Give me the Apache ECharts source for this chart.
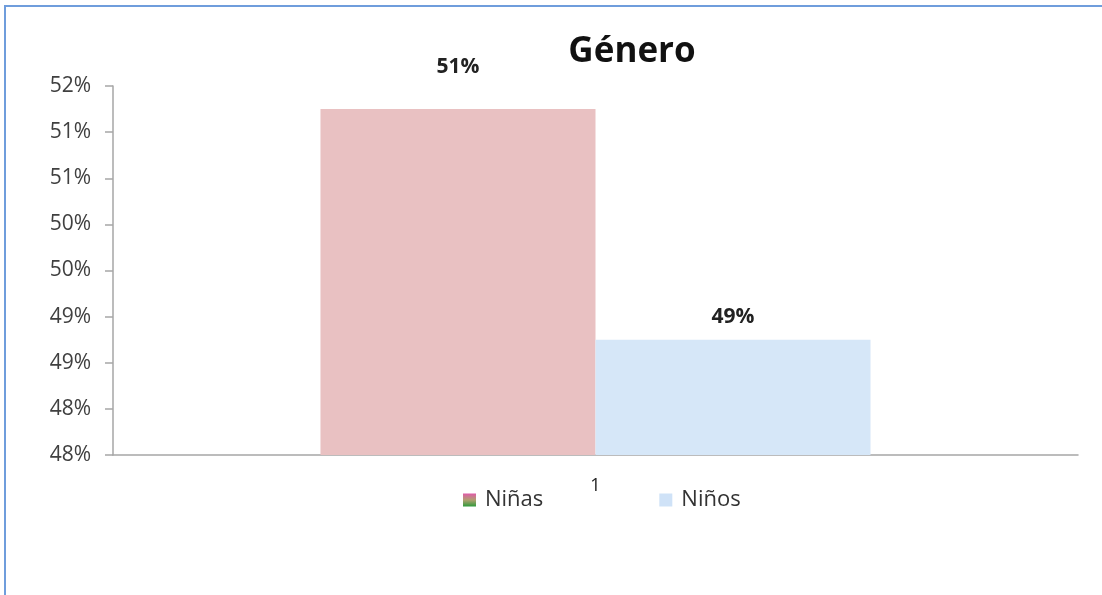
<!DOCTYPE html>
<html>
<head>
<meta charset="utf-8">
<script src="https://cdn.jsdelivr.net/npm/echarts@6/dist/echarts.min.js"></script>
<style>
  html, body { margin: 0; padding: 0; background: #fff; }
  #main { width: 1102px; height: 595px; }
</style>
</head>
<body>
<div id="main"></div>
<script>
var categories = ['1'];
var seriesNames = ['Niñas', 'Niños'];
var ninas = [0.5175];
var ninos = [0.4925];
var barLabels = ['51%', '49%'];
// labels as they appear on the axis, bottom to top
var tickLabels = ['48%', '48%', '49%', '49%', '50%', '50%', '51%', '51%', '52%'];
var yMin = 0.48, yMax = 0.52, yStep = 0.005;

var myChart = echarts.init(document.getElementById('main'));

var option = {
    backgroundColor: '#ffffff',
    textStyle: { fontFamily: 'Open Sans' },
    title: {
        text: 'Género',
        left: 627,
        top: 30,
        textAlign: 'center',
        textStyle: { fontSize: 35, fontWeight: 'bold', color: '#111', fontFamily: 'Open Sans' }
    },
    graphic: [{
        type: 'polyline',
        shape: { points: [[5, 600], [5, 6], [1102, 6]] },
        style: { stroke: '#6f9ddc', lineWidth: 2, fill: null }
    }],
    legend: {
        data: [
            { name: seriesNames[0], itemStyle: { color: new echarts.graphic.LinearGradient(0, 0, 0, 1, [
                { offset: 0, color: '#e05aa8' }, { offset: 0.5, color: '#b0a070' }, { offset: 1, color: '#2e9a3a' }
            ]) } },
            { name: seriesNames[1], itemStyle: { color: '#cfe2f7' } }
        ],
        icon: 'rect',
        left: 458,
        top: 484,
        itemWidth: 13,
        itemHeight: 13,
        itemGap: 116,
        textStyle: { fontSize: 22, color: '#333', fontFamily: 'Open Sans', padding: [0, 0, 0, 4] }
    },
    grid: { left: 113, right: 24, top: 86, bottom: 140 },
    xAxis: {
        type: 'category',
        data: categories,
        axisLine: { lineStyle: { color: '#a6a6a6', width: 1.5 } },
        axisTick: { length: 6, lineStyle: { color: '#a6a6a6', width: 1.5 } },
        axisLabel: { fontSize: 18, color: '#222', margin: 22 }
    },
    yAxis: {
        type: 'value',
        min: yMin,
        max: yMax,
        interval: yStep,
        splitLine: { show: false },
        axisLine: { show: true, lineStyle: { color: '#a6a6a6', width: 1.5 } },
        axisTick: { show: true, length: 8, inside: false, lineStyle: { color: '#a6a6a6', width: 1.5 } },
        axisLabel: {
            fontSize: 21,
            color: '#404040',
            margin: 22,
            formatter: function (v) {
                return tickLabels[Math.round((v - yMin) / yStep)];
            }
        }
    },
    series: [
        {
            name: seriesNames[0],
            type: 'bar',
            data: ninas,
            barGap: '0%',
            barCategoryGap: '43%',
            itemStyle: { color: '#e9c1c2' },
            label: {
                show: true, position: 'top', distance: 32,
                formatter: function () { return barLabels[0]; },
                fontSize: 21, fontWeight: 'bold', color: '#222'
            }
        },
        {
            name: seriesNames[1],
            type: 'bar',
            data: ninos,
            itemStyle: { color: '#d6e7f8' },
            label: {
                show: true, position: 'top', distance: 12,
                formatter: function () { return barLabels[1]; },
                fontSize: 21, fontWeight: 'bold', color: '#222'
            }
        }
    ]
};

myChart.setOption(option);
</script>
</body>
</html>
